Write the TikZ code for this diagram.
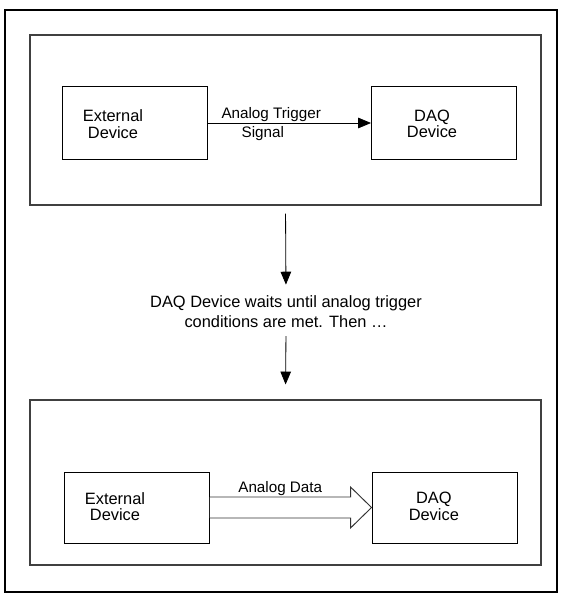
\documentclass[tikz,border=0pt]{standalone}
\usepackage{fontspec}
\setmainfont{Liberation Sans}
\usetikzlibrary{arrows.meta, positioning, calc}
\tikzstyle{panel} = [rectangle, minimum width=15.33cm, draw=black!75, line width=0.9pt]
\tikzstyle{device} = [rectangle, minimum width=4.35cm, minimum height=2.2cm, draw=black, line width=0.8pt]
\tikzstyle{boxtext} = [align=center, inner sep=0pt, font=\fontsize{14}{14}\selectfont]
\tikzstyle{label1} = [font=\fontsize{13}{15}\selectfont, inner sep=1pt]
\tikzstyle{arrow1} = [line width=0.7pt, -{Triangle[length=11pt,width=9pt]}]
\tikzstyle{hollow1} = [line width=0.8pt, draw=black!80, fill=white]

\begin{document}
\begin{tikzpicture}[x=0.03cm, y=-0.03cm]
            \useasboundingbox (0,0) rectangle (567,607);
            % Frame
            \draw [line width=1pt] (5,10) rectangle (557,592);

            % Panels
            \node (topPanel) [panel, minimum height=5.1cm] at (285.5,120) {};
            \node (botPanel) [panel, minimum height=4.95cm] at (285.5,482.5) {};

            % Nodes
            \node (extA) [device, label={[boxtext, xshift=-0.66cm, yshift=-0.03cm]center:External\\Device}] at (135,123) {};
            \node (daqA) [device, right of=extA, node distance=9.27cm, label={[boxtext, xshift=-0.36cm, yshift=-0.03cm]center:DAQ\\Device}] {};
            \node (msg) [label1, align=center, font=\fontsize{14}{17}\selectfont] at (286,312) {DAQ Device waits until analog trigger\\conditions are met. Then \ldots};
            \node (extB) [device, minimum height=2.13cm, label={[boxtext, xshift=-0.66cm, yshift=0.03cm]center:External\\Device}] at (137,507.5) {};
            \node (daqB) [device, minimum height=2.13cm, right of=extB, node distance=9.225cm, label={[boxtext, xshift=-0.32cm, yshift=0.03cm]center:DAQ\\Device}] {};

            % Edges
            \draw [arrow1] (extA) -- node[label1, above, xshift=-0.55cm] {Analog Trigger} node[label1, below, xshift=-0.8cm, yshift=-0.06cm] {Signal} (daqA);
            \draw [arrow1, shorten <=0.24cm, shorten >=0.3cm] (topPanel.south) -- (msg.north);
            \draw [arrow1, shorten <=0.2cm, shorten >=0.45cm] (msg.south) -- (botPanel.north);
            \draw [hollow1] ($(extB.east)+(0,-10.5)$) -- node[label1, above, text=black] {Analog Data} ($(daqB.west)+(-21,-10.5)$) -- ($(daqB.west)+(-21,-20.5)$) -- (daqB.west) -- ($(daqB.west)+(-21,20.5)$) -- ($(daqB.west)+(-21,10.5)$) -- ($(extB.east)+(0,10.5)$);
        \end{tikzpicture}
\end{document}
